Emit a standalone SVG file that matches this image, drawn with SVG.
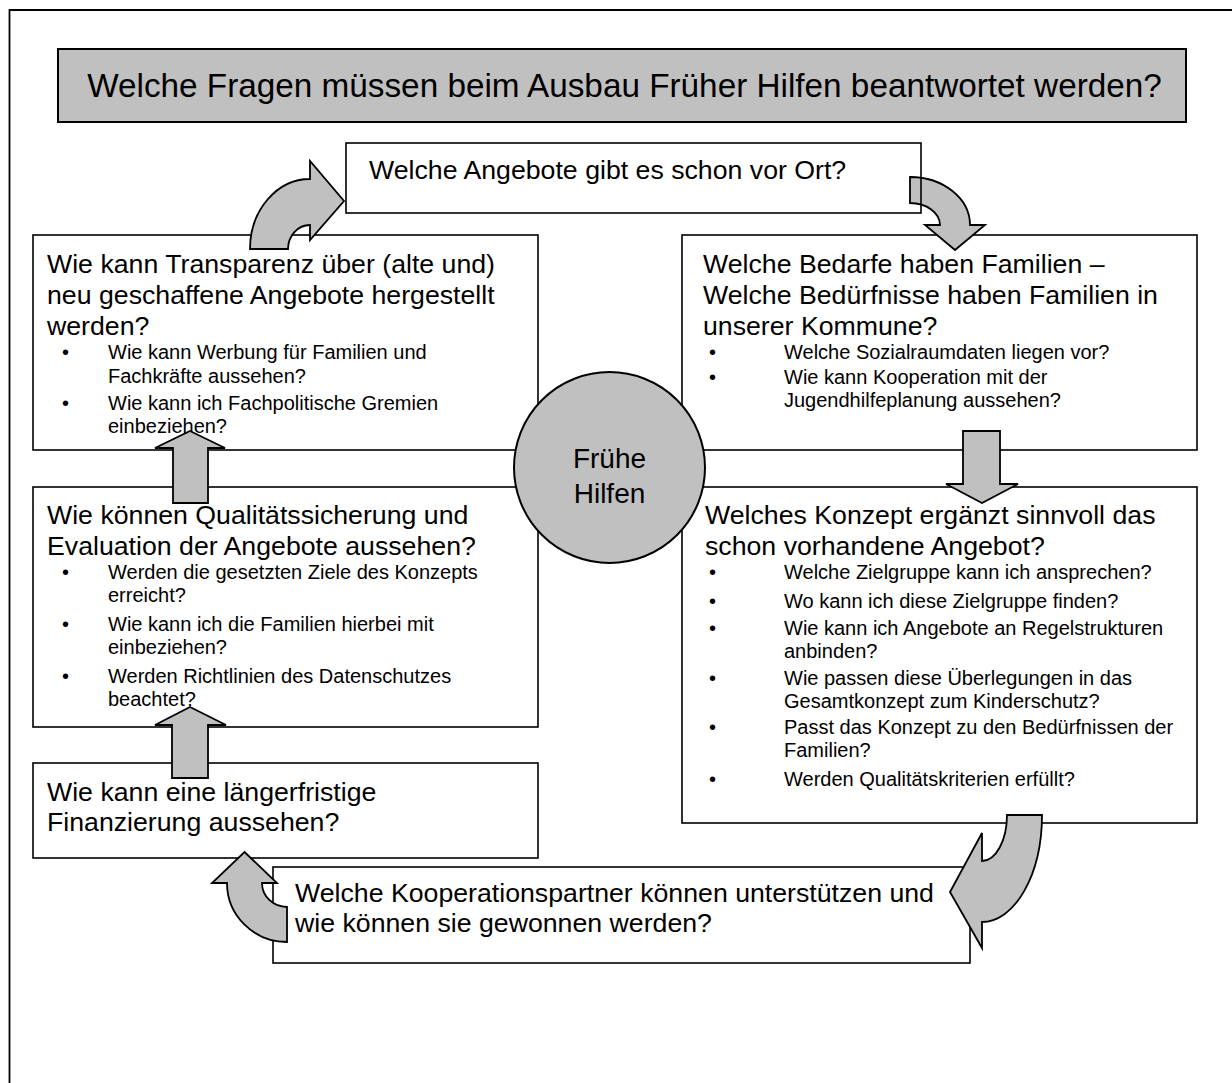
<svg xmlns="http://www.w3.org/2000/svg" width="1232" height="1083" viewBox="0 0 1232 1083">
<style>
text{font-family:"Liberation Sans",Arial,sans-serif;fill:#000}
.box{fill:#fff;stroke:#000;stroke-width:1.6}
.frame{fill:none;stroke:#000;stroke-width:1.6}
.gray{fill:#c0c0c0;stroke:#000;stroke-width:2}
.arr{fill:#c0c0c0;stroke:#000;stroke-width:1.8;stroke-linejoin:miter}
.m{font-size:26.7px}
.b{font-size:20px}
.t{font-size:33.3px}
.c{font-size:28px}
</style>
<rect width="1232" height="1083" fill="#fff"/>
<path d="M9.5,1083 V10 H1232" fill="none" stroke="#000" stroke-width="1.8"/>
<g id="title">
<rect class="gray" x="58" y="49" width="1128" height="73"/>
<text class="t" x="624.5" y="97" text-anchor="middle">Welche Fragen müssen beim Ausbau Früher Hilfen beantwortet werden?</text>
</g>
<g id="transparenz">
<rect class="box" x="33" y="235" width="505" height="215"/>
<text class="m" x="47" y="273">Wie kann Transparenz über (alte und)</text>
<text class="m" x="47" y="304">neu geschaffene Angebote hergestellt</text>
<text class="m" x="47" y="335">werden?</text>
<text class="b" x="62" y="359">•</text><text class="b" x="108" y="359">Wie kann Werbung für Familien und</text>
<text class="b" x="108" y="383">Fachkräfte aussehen?</text>
<text class="b" x="62" y="410">•</text><text class="b" x="108" y="410">Wie kann ich Fachpolitische Gremien</text>
<text class="b" x="108" y="433">einbeziehen?</text>
</g>
<g id="bedarfe">
<rect class="box" x="682" y="235" width="515" height="215"/>
<text class="m" x="703" y="273">Welche Bedarfe haben Familien –</text>
<text class="m" x="703" y="304">Welche Bedürfnisse haben Familien in</text>
<text class="m" x="703" y="335">unserer Kommune?</text>
<text class="b" x="709" y="359">•</text><text class="b" x="784" y="359">Welche Sozialraumdaten liegen vor?</text>
<text class="b" x="709" y="384">•</text><text class="b" x="784" y="384">Wie kann Kooperation mit der</text>
<text class="b" x="784" y="407">Jugendhilfeplanung aussehen?</text>
</g>
<g id="qualitaet">
<rect class="box" x="33" y="487" width="505" height="240"/>
<text class="m" x="47" y="524">Wie können Qualitätssicherung und</text>
<text class="m" x="47" y="555">Evaluation der Angebote aussehen?</text>
<text class="b" x="62" y="579">•</text><text class="b" x="108" y="579">Werden die gesetzten Ziele des Konzepts</text>
<text class="b" x="108" y="602">erreicht?</text>
<text class="b" x="62" y="631">•</text><text class="b" x="108" y="631">Wie kann ich die Familien hierbei mit</text>
<text class="b" x="108" y="654">einbeziehen?</text>
<text class="b" x="62" y="683">•</text><text class="b" x="108" y="683">Werden Richtlinien des Datenschutzes</text>
<text class="b" x="108" y="706">beachtet?</text>
</g>
<g id="konzept">
<rect class="box" x="682" y="487" width="515" height="336"/>
<text class="m" x="705" y="524">Welches Konzept ergänzt sinnvoll das</text>
<text class="m" x="705" y="555">schon vorhandene Angebot?</text>
<text class="b" x="709" y="579">•</text><text class="b" x="784" y="579">Welche Zielgruppe kann ich ansprechen?</text>
<text class="b" x="709" y="608">•</text><text class="b" x="784" y="608">Wo kann ich diese Zielgruppe finden?</text>
<text class="b" x="709" y="635">•</text><text class="b" x="784" y="635">Wie kann ich Angebote an Regelstrukturen</text>
<text class="b" x="784" y="658">anbinden?</text>
<text class="b" x="709" y="685">•</text><text class="b" x="784" y="685">Wie passen diese Überlegungen in das</text>
<text class="b" x="784" y="708">Gesamtkonzept zum Kinderschutz?</text>
<text class="b" x="709" y="734">•</text><text class="b" x="784" y="734">Passt das Konzept zu den Bedürfnissen der</text>
<text class="b" x="784" y="757">Familien?</text>
<text class="b" x="709" y="786">•</text><text class="b" x="784" y="786">Werden Qualitätskriterien erfüllt?</text>
</g>
<g id="finanzierung">
<rect class="box" x="33" y="763" width="505" height="95"/>
<text class="m" x="47" y="801">Wie kann eine längerfristige</text>
<text class="m" x="47" y="831">Finanzierung aussehen?</text>
</g>
<g id="kooperation">
<rect class="box" x="273" y="867" width="697" height="96"/>
<text class="m" x="295" y="902">Welche Kooperationspartner können unterstützen und</text>
<text class="m" x="295" y="932">wie können sie gewonnen werden?</text>
</g>
<g id="fruehe-hilfen">
<circle class="gray" cx="609.5" cy="467.5" r="95.5"/>
<text class="c" x="609.5" y="468" text-anchor="middle">Frühe</text>
<text class="c" x="609.5" y="503" text-anchor="middle">Hilfen</text>
</g>
<g id="connectors">
<path class="arr" d="M250,249 A60,70 0 0 1 310,179 L310,161 L344,201 L310,240 L310,225 A22,24 0 0 0 288,249 Z"/>
<path class="arr" d="M910,177 A60,48 0 0 1 970,225 L985,225 L955,250 L925,225 L940,225 A30,22 0 0 0 910,203 Z"/>
<path class="arr" d="M963,431 H1000 V484 H1018 L982,503 L946,484 H963 Z"/>
<path class="arr" d="M1007,815 L1042,815 A60,107 0 0 1 982,922 L982,948 L950,892 L982,833 L982,861 A25,46 0 0 0 1007,815 Z"/>
<path class="arr" d="M244.5,852 L277,883 L262,883 A25,24 0 0 0 287,907 L287,942 A60,59 0 0 1 227,883 L212,883 Z"/>
<path class="arr" d="M190,707 L226,725 H208 V778 H172 V725 H155 Z"/>
<path class="arr" d="M190,431 L225,448 H208 V503 H173 V448 H155 Z"/>
</g>
<g id="angebote">
<rect class="frame" x="346" y="143" width="575" height="70"/>
<text class="m" x="369" y="179">Welche Angebote gibt es schon vor Ort?</text>
</g>
</svg>
